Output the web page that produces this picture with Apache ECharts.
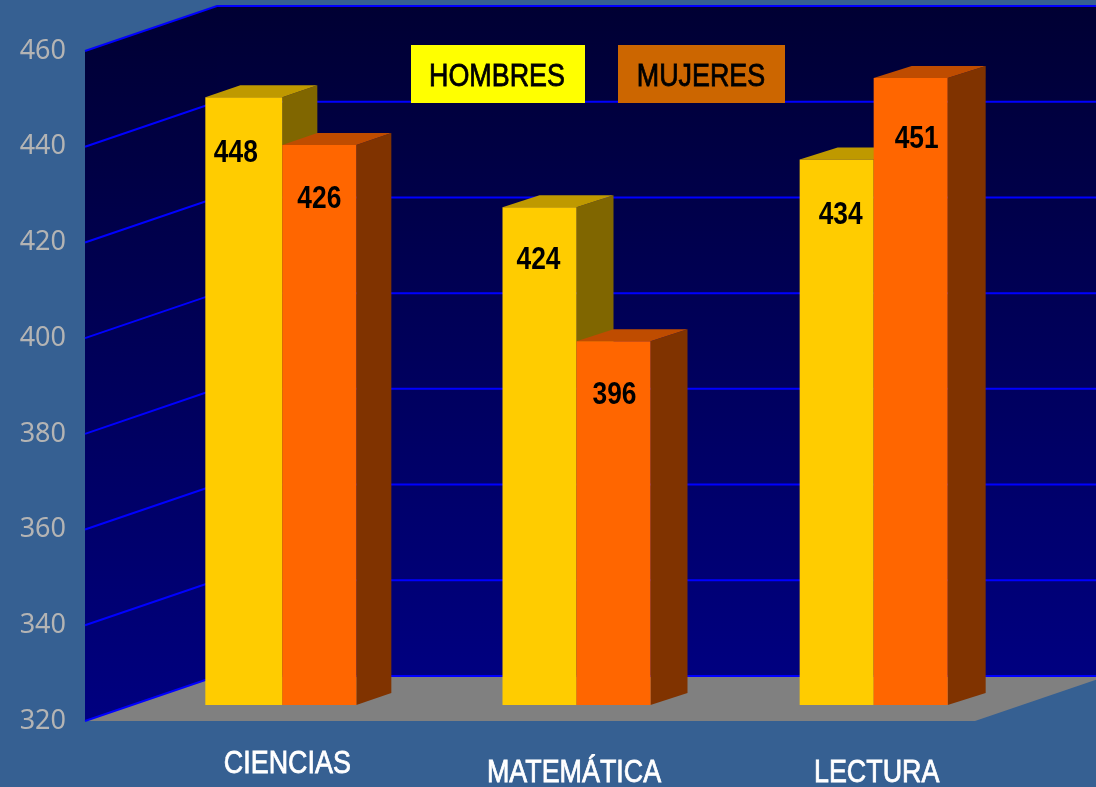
<!DOCTYPE html>
<html><head><meta charset="utf-8">
<style>html,body{margin:0;padding:0;background:#366092}#c{width:1096px;height:787px}</style>
<script src="https://cdn.jsdelivr.net/npm/echarts@6/dist/echarts.min.js"></script>
</head><body><div id="c"></div>
<script>
const categories = ['CIENCIAS', 'MATEMÁTICA', 'LECTURA'];
const hombres = [447, 424, 434];
const mujeres = [437, 396, 451];
const hombresLabels = ['448', '424', '434'];
const mujeresLabels = ['426', '396', '451'];
const yTicks = [320, 340, 360, 380, 400, 420, 440, 460];

// layout constants (pixels of the oblique projection)
const WALL = {dx: 132, dy: -45};
const FRONT = {dx: 47, dy: -16};
const DEPTH_DX = [35, 37, 38];
const DEPTH_DY = -12;
const BAR_W = 74;
const GROUP_SHIFT = [2, -0.5, 0];
const YELLOW_EXTRA = [3, 0, 0];
const CAT_LABEL = [[54, 43], [44, 52], [50, 52]];
const sans = '"Liberation Sans",Arial,sans-serif';

function poly(points, fill) {
  return {type: 'polygon', shape: {points}, style: {fill, stroke: null}, silent: true};
}
function wallItem(params, api) {
  const bl = api.coord([0, 320]), tl = api.coord([0, 460]);
  const x0 = 85, xEnd = api.getWidth() + 40, xFront = 975;
  const bb = bl[1] + WALL.dy, tb = tl[1] + WALL.dy, xb = x0 + WALL.dx;
  const grad = (a, b) => new echarts.graphic.LinearGradient(0, a, 0, b,
    [{offset: 0, color: '#000033'}, {offset: 1, color: '#000080'}], true);
  return {type: 'group', children: [
    poly([[x0, tl[1]], [xb, tb], [xb, bb], [x0, bl[1]]], grad(tb, bl[1])),
    poly([[xb, tb], [xEnd, tb], [xEnd, bb], [xb, bb]], grad(tb, bb)),
    poly([[x0, bl[1]], [xb, bb], [xFront + WALL.dx, bb], [xFront, bl[1]]], '#808080')
  ]};
}
function gridItem(params, api) {
  const y = api.coord([0, api.value(0)])[1];
  const x0 = 85, xb = x0 + WALL.dx, xEnd = api.getWidth() + 40;
  return {type: 'polyline', silent: true,
    shape: {points: [[x0, y], [xb, y + WALL.dy], [xEnd, y + WALL.dy]]},
    style: {fill: null, stroke: '#0000ff', lineWidth: 2}};
}
function barRenderer(dir, c, labels, nudges) {
  return function (params, api) {
    const i = params.dataIndex, cat = api.value(0), val = api.value(1);
    const p = api.coord([cat, val]);
    const cx = p[0] + FRONT.dx + GROUP_SHIFT[i];
    const top = p[1] + FRONT.dy;
    const bot = api.coord([cat, 320])[1] + FRONT.dy;
    const x0 = dir < 0 ? cx - BAR_W - YELLOW_EXTRA[i] : cx;
    const x1 = dir < 0 ? cx : cx + BAR_W;
    const dx = DEPTH_DX[i], dy = DEPTH_DY;
    const n = nudges[i];
    return {type: 'group', children: [
      poly([[x1, top], [x1 + dx, top + dy], [x1 + dx, bot + dy], [x1, bot]], c.side),
      poly([[x0, top], [x0 + dx, top + dy], [x1 + dx, top + dy], [x1, top]], c.top),
      poly([[x0, top], [x1, top], [x1, bot], [x0, bot]], c.front),
      {type: 'text', silent: true, x: (x0 + x1) / 2 + n[0], y: top + 56 + n[1], scaleX: 0.85,
        style: {text: labels[i], fill: '#000', font: 'bold 31px ' + sans,
          textAlign: 'center', textVerticalAlign: 'middle'}}
    ]};
  };
}
function catLabelItem(params, api) {
  const i = params.dataIndex;
  const p = api.coord([i, 320]);
  return {type: 'text', silent: true, x: p[0] + CAT_LABEL[i][0], y: p[1] + CAT_LABEL[i][1], scaleX: 0.84,
    style: {text: categories[i], fill: '#fff', stroke: '#fff', lineWidth: 0.8, font: '32px ' + sans,
      textAlign: 'center', textVerticalAlign: 'middle'}};
}

const chart = echarts.init(document.getElementById('c'), null, {renderer: 'canvas'});
chart.setOption({
  animation: false,
  backgroundColor: '#366092',
  grid: {left: 85, right: 121, top: 51, bottom: 66, containLabel: false},
  xAxis: {type: 'category', data: categories, axisLine: {show: false}, axisTick: {show: false},
    splitLine: {show: false}, axisLabel: {show: false}},
  yAxis: {type: 'value', min: 320, max: 460, interval: 20, axisLine: {show: false},
    axisTick: {show: false}, splitLine: {show: false}, z: 10,
    axisLabel: {margin: 19, color: '#b4b4b4', fontFamily: '"Noto Sans",sans-serif', fontSize: 27, padding: [8, 0, 0, 0]}},
  graphic: {elements: [
    {type: 'rect', z: 50, shape: {x: 411, y: 45, width: 174, height: 58}, style: {fill: '#ffff00'}},
    {type: 'text', z: 51, x: 497, y: 77, scaleX: 0.84, style: {text: 'HOMBRES', fill: '#000', stroke: '#000', lineWidth: 0.8, font: '32px ' + sans, textAlign: 'center', textVerticalAlign: 'middle'}},
    {type: 'rect', z: 50, shape: {x: 618, y: 45, width: 167, height: 58}, style: {fill: '#cc6600'}},
    {type: 'text', z: 51, x: 701, y: 77, scaleX: 0.84, style: {text: 'MUJERES', fill: '#000', stroke: '#000', lineWidth: 0.8, font: '32px ' + sans, textAlign: 'center', textVerticalAlign: 'middle'}}
  ]},
  series: [
    {type: 'custom', name: 'paredes', data: [[0]], renderItem: wallItem, z: 1, silent: true, clip: false},
    {type: 'custom', name: 'rejilla', data: yTicks.map(v => [v]), renderItem: gridItem, z: 2, silent: true, clip: false},
    {type: 'custom', name: 'HOMBRES', data: hombres.map((v, i) => [i, v]), encode: {x: 0, y: 1}, z: 3,
      renderItem: barRenderer(-1, {front: '#ffcc00', top: '#bf9900', side: '#806600'}, hombresLabels, [[-8, 0], [-1, -3], [4, 0]])},
    {type: 'custom', name: 'MUJERES', data: mujeres.map((v, i) => [i, v]), encode: {x: 0, y: 1}, z: 4,
      renderItem: barRenderer(1, {front: '#ff6600', top: '#bf4c00', side: '#803300'}, mujeresLabels, [[0, -2], [1, -2], [6, 5]])},
    {type: 'custom', name: 'categorias', data: categories.map((c, i) => [i]), renderItem: catLabelItem, z: 5, silent: true, clip: false}
  ]
});
</script></body></html>
